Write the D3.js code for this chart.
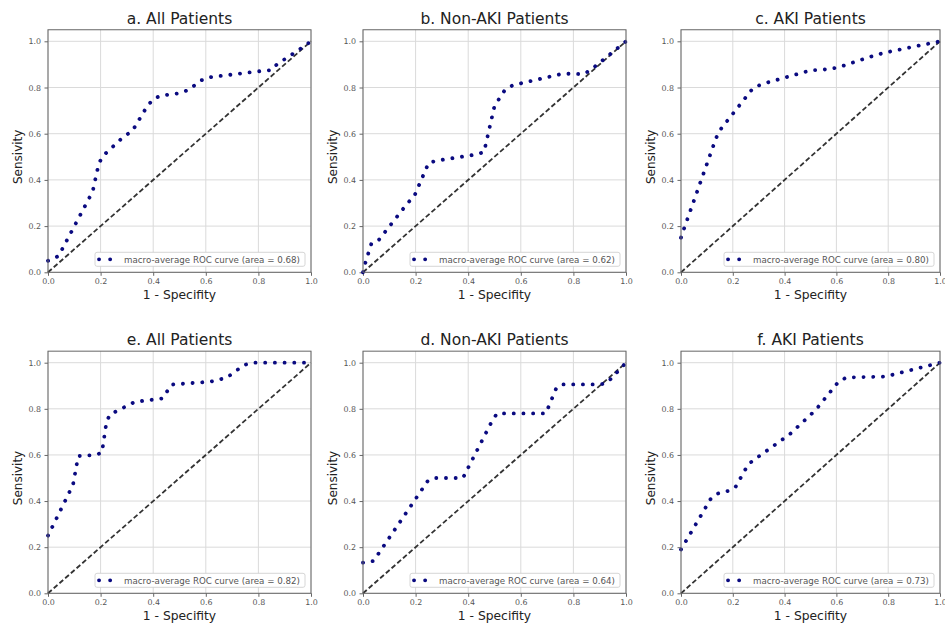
<!DOCTYPE html>
<html>
<head>
<meta charset="utf-8">
<script src="https://cdn.jsdelivr.net/npm/d3@7"></script>
<style>
  body { margin: 0; background: #fff; }
  svg { font-family: "DejaVu Sans", sans-serif; }
</style>
</head>
<body>
<svg id="chart" width="945" height="625"></svg>
<script>
// ROC curve vertices [1 - specificity, sensitivity]
const rocA = [[0,0.05],[0.04,0.07],[0.17,0.35],[0.185,0.43],[0.195,0.475],[0.21,0.505],[0.29,0.59],[0.32,0.61],[0.375,0.715],[0.4,0.75],[0.43,0.765],[0.5,0.775],[0.535,0.79],[0.58,0.83],[0.62,0.845],[0.8,0.87],[0.85,0.875],[0.87,0.9],[0.95,0.96],[1,1]];
const rocB = [[0,0],[0.01,0.045],[0.032,0.125],[0.06,0.14],[0.17,0.3],[0.195,0.33],[0.25,0.475],[0.29,0.485],[0.43,0.51],[0.46,0.52],[0.5,0.72],[0.54,0.79],[0.57,0.81],[0.76,0.86],[0.84,0.858],[0.87,0.88],[1,1]];
const rocC = [[0,0.15],[0.012,0.19],[0.135,0.58],[0.15,0.615],[0.28,0.8],[0.32,0.817],[0.5,0.874],[0.57,0.879],[0.61,0.888],[0.75,0.94],[0.8,0.954],[1,1]];
const rocE = [[0,0.25],[0.095,0.47],[0.115,0.595],[0.18,0.6],[0.205,0.61],[0.222,0.74],[0.235,0.775],[0.33,0.83],[0.435,0.845],[0.47,0.905],[0.62,0.918],[0.68,0.935],[0.745,0.99],[0.78,1],[1,1]];
const rocD = [[0,0.133],[0.04,0.14],[0.245,0.485],[0.27,0.5],[0.38,0.5],[0.492,0.75],[0.51,0.78],[0.695,0.78],[0.735,0.89],[0.755,0.906],[0.905,0.906],[0.93,0.915],[1,1]];
const rocF = [[0,0.19],[0.115,0.41],[0.14,0.432],[0.18,0.443],[0.21,0.46],[0.26,0.56],[0.29,0.585],[0.42,0.69],[0.52,0.795],[0.61,0.92],[0.64,0.936],[0.79,0.94],[1,1]];

const titles = ["a. All Patients", "b. Non-AKI Patients", "c. AKI Patients",
                "e. All Patients", "d. Non-AKI Patients", "f. AKI Patients"];
const areas = ["0.68", "0.62", "0.80", "0.82", "0.64", "0.73"];
const curves = [rocA, rocB, rocC, rocE, rocD, rocF];
const tickValues = [0, 0.2, 0.4, 0.6, 0.8, 1.0];

// panel placement
const cols = [[48, 311], [363, 626], [681, 940]];
const rows = [[272.3, 41.3], [593.3, 362.7]];

const svg = d3.select("#chart");

curves.forEach((data, i) => {
    let col = cols[i % 3];
    let row = rows[Math.floor(i / 3)];
    let unit = row[0] - row[1];

    let x = d3.scaleLinear().domain([0, 1]).range(col);
    let y = d3.scaleLinear().domain([0, 1.05]).range([row[0], row[0] - 1.05 * unit]);

    let g = svg.append("g");

    // grid
    g.selectAll(".gx").data(tickValues).join("line")
        .attr("x1", d => x(d)).attr("x2", d => x(d))
        .attr("y1", y(0)).attr("y2", y(1.05))
        .attr("stroke", "#dadada").attr("stroke-width", 1);
    g.selectAll(".gy").data(tickValues).join("line")
        .attr("x1", x(0)).attr("x2", x(1))
        .attr("y1", d => y(d)).attr("y2", d => y(d))
        .attr("stroke", "#dadada").attr("stroke-width", 1);

    // axes
    let xAxis = g.append("g")
        .attr("transform", "translate(0," + y(0) + ")")
        .call(d3.axisBottom(x).tickValues(tickValues).tickFormat(d3.format(".1f")).tickSize(3.5).tickPadding(2.5));
    let yAxis = g.append("g")
        .attr("transform", "translate(" + x(0) + ",0)")
        .call(d3.axisLeft(y).tickValues(tickValues).tickFormat(d3.format(".1f")).tickSize(3.5).tickPadding(3.5));
    [xAxis, yAxis].forEach(a => {
        a.select(".domain").remove();
        a.selectAll("text").attr("fill", "#555").style("font-size", "7.9px").style("font-family", "DejaVu Sans");
        a.selectAll("line").attr("stroke", "#666");
    });

    // chance diagonal
    g.append("line")
        .attr("x1", x(0)).attr("y1", y(0))
        .attr("x2", x(1)).attr("y2", y(1))
        .attr("stroke", "#333").attr("stroke-width", 1.8)
        .attr("stroke-dasharray", "5,2.6");

    // ROC curve, dotted navy
    let line = d3.line().x(d => x(d[0])).y(d => y(d[1]));
    g.append("path")
        .datum(data)
        .attr("d", line)
        .attr("fill", "none")
        .attr("stroke", "#0a0a80")
        .attr("stroke-width", 3.8)
        .attr("stroke-linecap", "round")
        .attr("stroke-dasharray", "0.1,9.6");

    // frame
    g.append("rect")
        .attr("x", x(0)).attr("y", y(1.05))
        .attr("width", x(1) - x(0)).attr("height", y(0) - y(1.05))
        .attr("fill", "none").attr("stroke", "#666").attr("stroke-width", 1);

    // legend
    let lx = x(1) - 216, ly = y(0) - 20;
    g.append("rect")
        .attr("x", lx).attr("y", ly).attr("width", 210).attr("height", 14)
        .attr("rx", 2).attr("fill", "#fff").attr("stroke", "#ccc").attr("stroke-width", 0.8);
    g.append("line")
        .attr("x1", lx + 4).attr("x2", lx + 16)
        .attr("y1", ly + 7).attr("y2", ly + 7)
        .attr("stroke", "#0a0a80").attr("stroke-width", 3.8)
        .attr("stroke-linecap", "round")
        .attr("stroke-dasharray", "0.1,11");
    g.append("text")
        .attr("x", lx + 29).attr("y", ly + 10.2)
        .attr("fill", "#555")
        .style("font-size", "8.7px")
        .text("macro-average ROC curve (area = " + areas[i] + ")");

    // title and labels
    g.append("text")
        .attr("x", (x(0) + x(1)) / 2).attr("y", y(1.05) - 6)
        .attr("text-anchor", "middle")
        .attr("fill", "#222")
        .style("font-size", "15.5px")
        .text(titles[i]);
    g.append("text")
        .attr("x", (x(0) + x(1)) / 2).attr("y", y(0) + 27)
        .attr("text-anchor", "middle")
        .attr("fill", "#222")
        .style("font-size", "12.3px")
        .text("1 - Specifity");
    g.append("text")
        .attr("transform", "translate(" + (x(0) - 26) + "," + y(0.5) + ") rotate(-90)")
        .attr("text-anchor", "middle")
        .attr("fill", "#222")
        .style("font-size", "12px")
        .text("Sensivity");
});
</script>
</body>
</html>
